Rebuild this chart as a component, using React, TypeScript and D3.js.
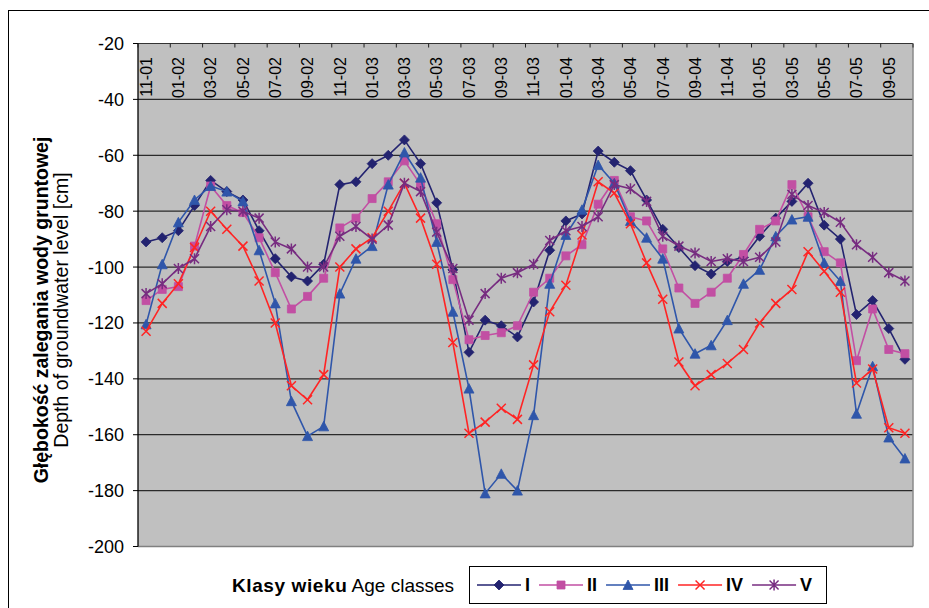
import * as d3 from "d3";
import { useEffect, useRef } from "react";

// month labels (every category; only every other one is printed)
const months = [
  "11-01", "12-01", "01-02", "02-02", "03-02", "04-02", "05-02", "06-02", "07-02", "08-02", "09-02", "10-02",
  "11-02", "12-02", "01-03", "02-03", "03-03", "04-03", "05-03", "06-03", "07-03", "08-03", "09-03", "10-03",
  "11-03", "12-03", "01-04", "02-04", "03-04", "04-04", "05-04", "06-04", "07-04", "08-04", "09-04", "10-04",
  "11-04", "12-04", "01-05", "02-05", "03-05", "04-05", "05-05", "06-05", "07-05", "08-05", "09-05", "10-05",
];

const classI = [
  -91, -89.5, -87, -78, -69, -73, -76, -87, -97, -103.5, -105, -99,
  -70.5, -69.5, -63, -60, -54.5, -63, -77, -101, -130.5, -119, -121, -125,
  -112.5, -94, -83.5, -81, -58.5, -62.5, -65.5, -76, -86.5, -93, -99.5, -102.5,
  -98, -96.5, -89, -82.5, -76.5, -70, -85, -90, -117, -112, -122, -133,
];
const classII = [
  -112, -108, -107, -92.5, -71, -78, -80.5, -89.5, -102, -115, -110.5, -104,
  -86, -82.5, -75.5, -69.5, -62, -70.5, -84.5, -104.5, -126, -124.5, -123.5, -121,
  -109, -104, -96, -92, -77.5, -69, -82, -83.5, -93.5, -107.5, -113, -109,
  -104, -95.5, -86.5, -83.5, -70.5, -82, -94.5, -98.5, -133.5, -115, -129.5, -131,
];
const classIII = [
  -120.5, -99, -84, -76, -71, -73, -76.5, -94, -113, -148, -160.5, -157,
  -109.5, -97, -92.5, -70.5, -59, -68, -91, -116, -143.5, -181, -174, -180,
  -153, -106, -88.5, -79.5, -63.5, -70, -83.5, -89.5, -97, -122, -131, -128,
  -119, -106, -101, -89, -83, -82, -98.5, -105, -152.5, -135.5, -161, -168.5,
];
const classIV = [
  -123, -113, -106, -93, -80, -86.5, -92.5, -105, -120, -142.5, -147.5, -138.5,
  -100, -93.5, -89.5, -80, -70, -82.5, -99, -127, -159.5, -155.5, -150.5, -154.5,
  -135, -116, -106.5, -88.5, -69.5, -73.5, -84.5, -98.5, -111.5, -134, -142.5, -138.5,
  -134.5, -129.5, -120, -113, -108, -94.5, -101.5, -109, -141.5, -136.5, -157.5, -159.5,
];
const classV = [
  -109.5, -106, -100.5, -97, -85.5, -79.5, -80, -82.5, -91, -93.5, -100, -100,
  -89, -85.5, -90, -85, -70, -73, -87.5, -100.5, -119, -109.5, -104, -102,
  -99, -90.5, -87, -85.5, -82, -70.5, -72, -76.5, -89, -92.5, -95, -98,
  -97, -98, -96.5, -91, -74, -78, -80.5, -84, -92, -96.5, -102, -105,
];

const seriesNames = ["I", "II", "III", "IV", "V"];
const yTicks = [-20, -40, -60, -80, -100, -120, -140, -160, -180, -200];

const FONT = "'Liberation Sans', Arial, sans-serif";

const markerPath: Record<string, string> = {
  diamond: "M0,-5L5,0L0,5L-5,0Z",
  square: "M-4,-4H4V4H-4Z",
  triangle: "M0,-5L5,4.5H-5Z",
  cross: "M-4.5,-4.5L4.5,4.5M-4.5,4.5L4.5,-4.5",
  star: "M-4.5,-4.5L4.5,4.5M-4.5,4.5L4.5,-4.5M0,-5.5V5.5",
};

function App() {
  const ref = useRef<SVGSVGElement>(null);

  useEffect(() => {
    const width = 929;
    const height = 608;
    const svg = d3.select(ref.current).attr("width", width).attr("height", height);
    svg.selectAll("*").remove();

    const series = [
      { name: seriesNames[0], values: classI, color: "#232370", marker: "diamond", filled: true },
      { name: seriesNames[1], values: classII, color: "#c24fa3", marker: "square", filled: true },
      { name: seriesNames[2], values: classIII, color: "#2f56aa", marker: "triangle", filled: true },
      { name: seriesNames[3], values: classIV, color: "#ff2424", marker: "cross", filled: false },
      { name: seriesNames[4], values: classV, color: "#772c80", marker: "star", filled: false },
    ];

    const left = 138, right = 913, top = 43.5, bottom = 546.5;

    const x = d3.scaleBand<string>().domain(months).range([left, right]);
    const y = d3.scaleLinear().domain([-200, -20]).range([bottom, top]);
    const cx = (i: number) => (x(months[i]) ?? 0) + x.bandwidth() / 2;

    // outer frame
    svg.append("rect").attr("x", 8.5).attr("y", 10.5).attr("width", 940).attr("height", 620)
      .attr("fill", "none").attr("stroke", "#000").attr("stroke-width", 1);

    // plot background
    svg.append("rect").attr("x", left).attr("y", top).attr("width", right - left).attr("height", bottom - top)
      .attr("fill", "#c0c0c0");

    // grid
    svg.append("g").selectAll("line").data(yTicks.filter((v) => v !== -20 && v !== -200)).join("line")
      .attr("x1", left).attr("x2", right)
      .attr("y1", (d) => y(d)).attr("y2", (d) => y(d))
      .attr("stroke", "#2a2a2a").attr("stroke-width", 1.2);

    // plot border
    svg.append("line").attr("x1", left).attr("x2", right).attr("y1", top).attr("y2", top)
      .attr("stroke", "#333").attr("stroke-width", 1.2);
    svg.append("line").attr("x1", left).attr("x2", right).attr("y1", bottom).attr("y2", bottom)
      .attr("stroke", "#808080").attr("stroke-width", 1.5);
    svg.append("line").attr("x1", right).attr("x2", right).attr("y1", top).attr("y2", bottom)
      .attr("stroke", "#8a8a8a").attr("stroke-width", 1.5);
    svg.append("line").attr("x1", left).attr("x2", left).attr("y1", top).attr("y2", bottom)
      .attr("stroke", "#000").attr("stroke-width", 1.3);

    // y ticks & labels
    const yAx = svg.append("g");
    yAx.selectAll("line").data(yTicks).join("line")
      .attr("x1", left - 5).attr("x2", left)
      .attr("y1", (d) => y(d)).attr("y2", (d) => y(d))
      .attr("stroke", "#000");
    yAx.selectAll("text").data(yTicks).join("text")
      .attr("x", 124).attr("y", (d) => y(d)).attr("dy", "0.36em")
      .attr("text-anchor", "end")
      .style("font", `18px ${FONT}`).attr("fill", "#000")
      .text((d) => d);

    // top category axis
    const xAx = svg.append("g");
    const tickIdx = d3.range(0, months.length + 1, 2);
    xAx.selectAll("line").data(tickIdx).join("line")
      .attr("x1", (i) => left + i * x.bandwidth()).attr("x2", (i) => left + i * x.bandwidth())
      .attr("y1", top).attr("y2", top + 4)
      .attr("stroke", "#222");
    xAx.selectAll("text").data(months.filter((_, i) => i % 2 === 0)).join("text")
      .attr("transform", (d) => `translate(${(x(d) ?? 0) + x.bandwidth() / 2},57) rotate(-90)`)
      .attr("dy", "0.36em")
      .attr("text-anchor", "end")
      .style("font", `16px ${FONT}`).attr("fill", "#000")
      .text((d) => d);

    // series
    const line = d3.line<number>().x((_, i) => cx(i)).y((d) => y(d));
    series.forEach((s) => {
      const g = svg.append("g");
      g.append("path").datum(s.values).attr("d", line)
        .attr("fill", "none").attr("stroke", s.color).attr("stroke-width", 1.6);
      g.selectAll("path.m").data(s.values).join("path").attr("class", "m")
        .attr("transform", (d, i) => `translate(${cx(i)},${y(d)})`)
        .attr("d", markerPath[s.marker])
        .attr("fill", s.filled ? s.color : "none")
        .attr("stroke", s.color).attr("stroke-width", s.filled ? 0.8 : 1.5);
    });

    // y axis title
    const yt = svg.append("g").attr("transform", "translate(48,310) rotate(-90)");
    yt.append("text").attr("text-anchor", "middle")
      .style("font", `bold 19.5px ${FONT}`).attr("fill", "#000")
      .text("Głębokość zalegania wody gruntowej");
    yt.append("text").attr("text-anchor", "middle").attr("y", 20)
      .style("font", `19.5px ${FONT}`).attr("fill", "#000")
      .text("Depth of groundwater level [cm]");

    // legend
    const ly = 585;
    const lt = svg.append("text").attr("x", 232).attr("y", ly).attr("dy", "0.36em")
      .style("font", `19px ${FONT}`).attr("fill", "#000");
    lt.append("tspan").style("font-weight", "bold").attr("letter-spacing", "0.6").text("Klasy wieku");
    lt.append("tspan").text(" Age classes");

    svg.append("rect").attr("x", 469.5).attr("y", 566.5).attr("width", 357).attr("height", 37)
      .attr("fill", "#fff").attr("stroke", "#000").attr("stroke-width", 1);

    let lx = 477;
    series.forEach((s) => {
      const g = svg.append("g");
      g.append("line").attr("x1", lx).attr("x2", lx + 44).attr("y1", ly).attr("y2", ly)
        .attr("stroke", s.color).attr("stroke-width", 1.6);
      g.append("path").attr("transform", `translate(${lx + 22},${ly})`)
        .attr("d", markerPath[s.marker])
        .attr("fill", s.filled ? s.color : "none")
        .attr("stroke", s.color).attr("stroke-width", s.filled ? 0.8 : 1.5);
      const t = g.append("text").attr("x", lx + 48).attr("y", ly).attr("dy", "0.36em")
        .style("font", `bold 18px ${FONT}`).attr("fill", "#000").text(s.name);
      const w = (t.node() as SVGTextElement).getComputedTextLength();
      lx = lx + 48 + w + 9;
    });

    return () => {
      svg.selectAll("*").remove();
    };
  }, []);

  return (
    <div style={{ position: "absolute", left: 0, top: 0 }}>
      <svg ref={ref} style={{ display: "block", background: "#fff" }}></svg>
    </div>
  );
}

export default App;
